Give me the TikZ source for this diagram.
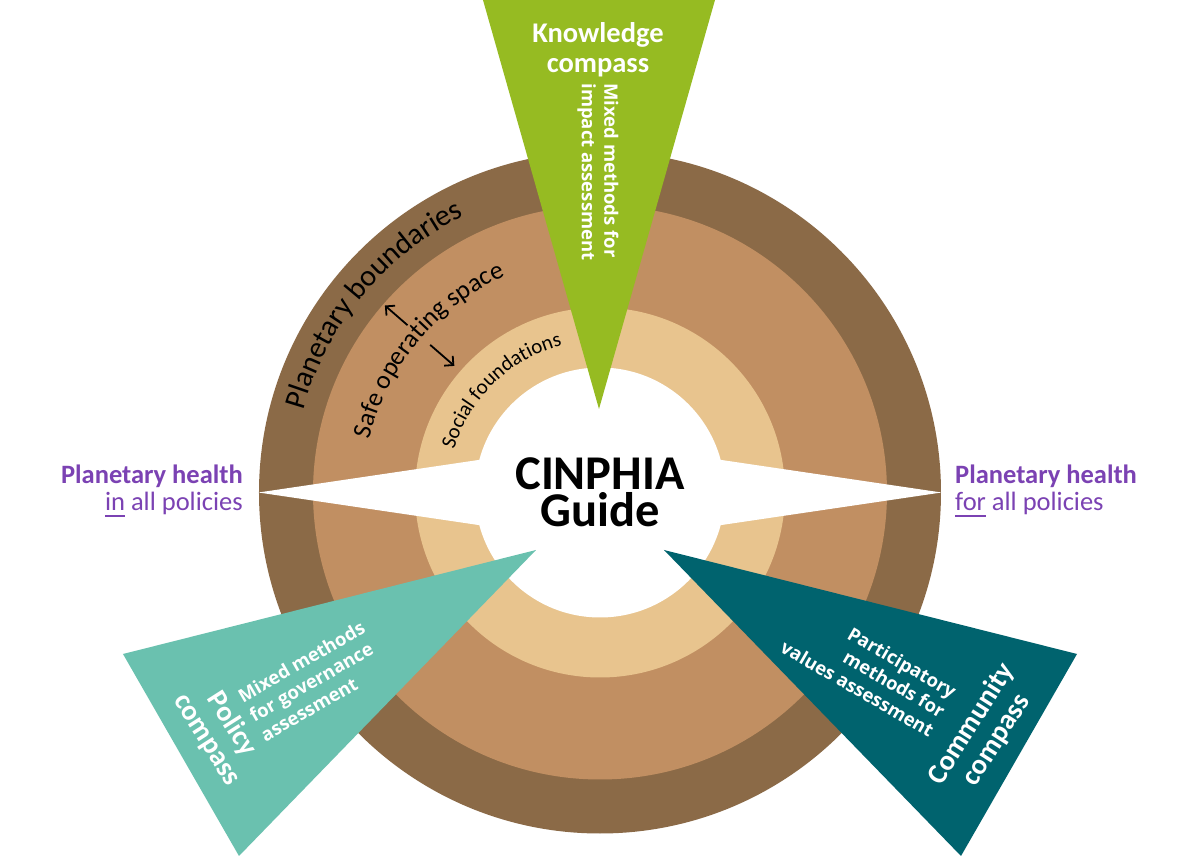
\documentclass[tikz,border=0pt]{standalone}
\usepackage{fontspec}
\setmainfont{Carlito}
\newfontfamily\osans{Open Sans}
\usetikzlibrary{decorations.text,arrows.meta}
\definecolor{pbbrown}{HTML}{8B6A47}
\definecolor{sosbrown}{HTML}{C18F62}
\definecolor{sfbeige}{HTML}{E8C48E}
\definecolor{kgreen}{HTML}{96BB22}
\definecolor{pteal}{HTML}{6AC1AF}
\definecolor{cteal}{HTML}{00636E}
\definecolor{phpurple}{HTML}{7B42B3}
\newcommand\phul[1]{\setbox0=\hbox{#1}\rlap{\rule[-6pt]{\wd0}{1.3pt}}\box0\relax}
\begin{document}
\begin{tikzpicture}[x=1pt,y=1pt,
  titletext/.style={text=white,font=\fontsize{28.5}{29.5}\selectfont\bfseries,align=center,inner sep=0pt},
  desctext/.style={text=white,font=\osans\fontsize{18.5}{22.5}\selectfont\bfseries,inner sep=0pt},
  phbold/.style={text=phpurple,font=\fontsize{26.5}{27}\selectfont\bfseries,inner sep=0pt},
  phreg/.style={text=phpurple,font=\fontsize{26.5}{27}\selectfont,inner sep=0pt},
  guidetext/.style={font=\fontsize{48.5}{37}\selectfont\bfseries,anchor=base,inner sep=0pt},
  radarrow/.style={line width=1.8pt,-{Straight Barb[length=6.5pt,width=13pt]}}
]
\fill[white] (-600,-363.5) rectangle (600,492.5);
\useasboundingbox (-600,-363.5) rectangle (600,492.5);
% rings
\fill[pbbrown] (0,0) circle[radius=341];
\fill[sosbrown] (0,0) circle[radius=287];
\fill[sfbeige] (0,0) circle[radius=185];
\fill[white] (0,0) circle[radius=125];
% white compass points
\fill[white] (-341.5,0) -- (-100,35.7) -- (-100,-35.7) -- cycle;
\fill[white] (341.5,0) -- (100,35.7) -- (100,-35.7) -- cycle;
% compass triangles
\fill[kgreen] (-117,492.5) -- (115,492.5) -- (-1,83.5) -- cycle;
\fill[pteal] (-477,-161.5) -- (-64,-57.5) -- (-361,-363.5) -- cycle;
\fill[cteal] (477,-161.5) -- (64,-57.5) -- (361,-363.5) -- cycle;
% curved ring labels
\path[decorate,decoration={text along path,text align=left,
  text={|\fontsize{30}{36}\selectfont|Planetary boundaries}}]
  (164.5:308) arc[start angle=164.5,end angle=95,radius=308];
\path[decorate,decoration={text along path,text align=left,
  text={|\fontsize{26}{30}\selectfont|Safe operating space}}]
  (167:236) arc[start angle=167,end angle=95,radius=236];
\path[decorate,decoration={text along path,text align=left,
  text={|\fontsize{21}{25}\selectfont|Social foundations}}]
  (163.5:152) arc[start angle=163.5,end angle=90,radius=152];
% radial arrows
\coordinate (upfrom) at (139:255);
\coordinate (upto) at (139:285);
\coordinate (downfrom) at (139:225);
\coordinate (downto) at (139:193);
\draw[radarrow] (upfrom) -- (upto);
\draw[radarrow] (downfrom) -- (downto);
% centre
\node[guidetext] (cinphia) at (0,2.5) {CINPHIA};
\node[guidetext] (guide) at (0,-34.5) {Guide};
% planetary health labels
\node[phbold,anchor=base east] (phinA) at (-357,8.5) {Planetary health};
\node[phreg,anchor=base east] (phinB) at (-357,-18.2) {\phul{in} all policies};
\node[phbold,anchor=base west] (phforA) at (355,8.5) {Planetary health};
\node[phreg,anchor=base west] (phforB) at (355,-18.2) {\phul{for} all policies};
% compass texts
\node[titletext] (know) at (-2,443) {Knowledge\\compass};
\node[desctext,rotate=-90,align=left] (knowdesc) at (-2,320.5) {Mixed methods for\\impact assessment};
\node[titletext,rotate=-57.5] (pol) at (-380.5,-239.5) {Policy\\compass};
\node[desctext,rotate=30,align=left] (poldesc) at (-287.4,-188.5) {Mixed methods\\for governance\\assessment};
\node[titletext,rotate=57.5] (com) at (384,-239.5) {Community\\compass};
\node[desctext,rotate=-30,align=right] (comdesc) at (268.7,-176.6) {Participatory\\methods for\\values assessment};
\end{tikzpicture}
\end{document}
